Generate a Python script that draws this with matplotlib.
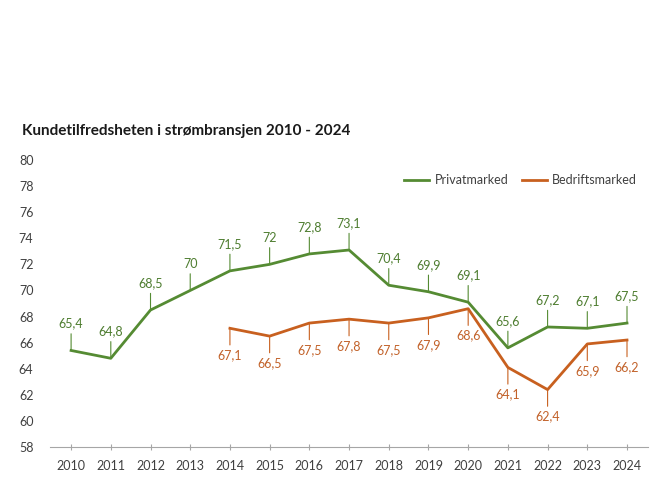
import matplotlib.pyplot as plt

# data
years = [2010, 2011, 2012, 2013, 2014, 2015, 2016, 2017, 2018, 2019, 2020, 2021, 2022, 2023, 2024]
privat = [65.4, 64.8, 68.5, 70, 71.5, 72, 72.8, 73.1, 70.4, 69.9, 69.1, 65.6, 67.2, 67.1, 67.5]
bedrift_years = [2014, 2015, 2016, 2017, 2018, 2019, 2020, 2021, 2022, 2023, 2024]
bedrift = [67.1, 66.5, 67.5, 67.8, 67.5, 67.9, 68.6, 64.1, 62.4, 65.9, 66.2]

green = "#558b33"
orange = "#c8601f"
green_txt = "#4e7d30"
orange_txt = "#c2622a"

plt.rcParams['font.family'] = ['Lato', 'DejaVu Sans']

fig = plt.figure(figsize=(6.5, 5), dpi=100)
ax = fig.add_axes([0.077, 0.106, 0.92, 0.574])

ax.plot(years, privat, color=green, lw=2, label="Privatmarked")
ax.plot(bedrift_years, bedrift, color=orange, lw=2, label="Bedriftsmarked")


def fmt(v):
    s = ("%.1f" % v).rstrip("0").rstrip(".")
    return s.replace(".", ",")


for x, v in zip(years, privat):
    ax.annotate(fmt(v), xy=(x, v), xytext=(0, 15), textcoords="offset points",
                ha="center", va="bottom", fontsize=9, color=green_txt,
                arrowprops=dict(arrowstyle="-", color=green, lw=0.8,
                                shrinkA=1, shrinkB=0))

for x, v in zip(bedrift_years, bedrift):
    ax.annotate(fmt(v), xy=(x, v), xytext=(0, -15), textcoords="offset points",
                ha="center", va="top", fontsize=9, color=orange_txt,
                arrowprops=dict(arrowstyle="-", color=orange, lw=0.8,
                                shrinkA=1, shrinkB=0))

ax.set_xlim(2009.47, 2024.53)
ax.set_ylim(58, 80)
ax.set_yticks(range(58, 81, 2))
ax.set_xticks(years)

for s in ["top", "right", "left"]:
    ax.spines[s].set_visible(False)
ax.spines["bottom"].set_color("#a6a6a6")
ax.tick_params(axis="y", length=0, pad=12, labelsize=9, labelcolor="#404040")
ax.tick_params(axis="x", length=4, direction="inout", color="#a6a6a6",
               pad=7, labelsize=9, labelcolor="#404040")

ax.legend(loc="upper right", bbox_to_anchor=(1.0, 0.99), ncol=2, frameon=False,
          fontsize=9, handlelength=2.0, columnspacing=1.1, handletextpad=0.4,
          labelcolor="#404040")

fig.text(0.034, 0.738, "Kundetilfredsheten i strømbransjen 2010 - 2024",
         fontsize=11, fontweight="bold", color="#1a1a1a", va="center")

fig.savefig("out.png", dpi=100, facecolor="white")
